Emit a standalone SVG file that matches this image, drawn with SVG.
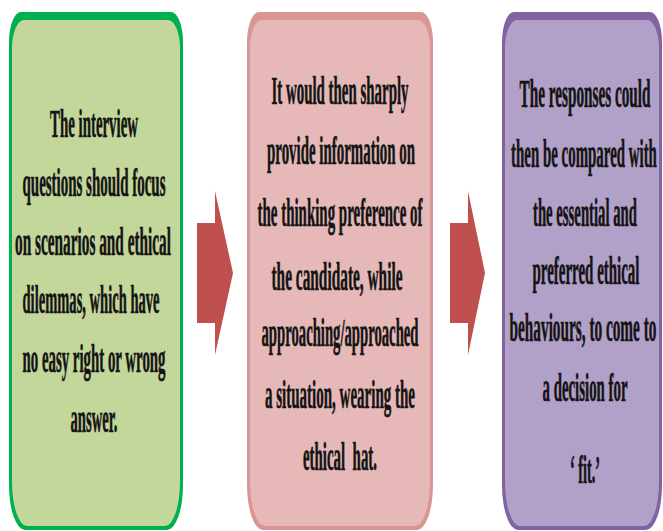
<svg xmlns="http://www.w3.org/2000/svg" width="663" height="531" viewBox="0 0 663 531">
<style>
.t{font-family:"Liberation Serif","Times New Roman",serif;font-weight:bold;font-size:41px;fill:#141414;stroke:#141414;stroke-width:0.7;text-anchor:middle}
</style>
<rect width="663" height="531" fill="#ffffff"/>
<g id="connectors">
<polygon points="197,223 215,223 215,191 233,273 215,355 215,323 197,323" fill="#c0504d"/>
<polygon points="450,223 468,223 468,191 485,273 468,355 468,323 450,323" fill="#c0504d"/>
</g>
<g id="box1">
<path d="M9,42 A12,30 0 0 1 21,12 H171 A12,30 0 0 1 183,42 V485 A16,45 0 0 1 167,530 H25 A16,45 0 0 1 9,485 Z" fill="#00b050"/>
<path d="M12,48 A12,28 0 0 1 24,20 H168 A12,28 0 0 1 180,48 V482 A15,44 0 0 1 165,526 H27 A15,44 0 0 1 12,482 Z" fill="#c4d79b"/>
<text class="t" transform="translate(94,137) scale(0.4,1)" textLength="220" lengthAdjust="spacingAndGlyphs">The interview</text>
<text class="t" transform="translate(94,196) scale(0.4,1)" textLength="357.5" lengthAdjust="spacingAndGlyphs">questions should focus</text>
<text class="t" transform="translate(93,255) scale(0.4,1)" textLength="390" lengthAdjust="spacingAndGlyphs">on scenarios and ethical</text>
<text class="t" transform="translate(91,313) scale(0.4,1)" textLength="342.5" lengthAdjust="spacingAndGlyphs">dilemmas, which have</text>
<text class="t" transform="translate(94,372) scale(0.4,1)" textLength="357.5" lengthAdjust="spacingAndGlyphs">no easy right or wrong</text>
<text class="t" transform="translate(94,432) scale(0.4,1)" textLength="117.5" lengthAdjust="spacingAndGlyphs">answer.</text>
</g>
<g id="box2">
<path d="M247,42 A12,30 0 0 1 259,12 H421 A12,30 0 0 1 433,42 V485 A16,45 0 0 1 417,530 H263 A16,45 0 0 1 247,485 Z" fill="#da9694"/>
<path d="M250,48 A12,28 0 0 1 262,20 H418 A12,28 0 0 1 430,48 V482 A15,44 0 0 1 415,526 H265 A15,44 0 0 1 250,482 Z" fill="#e6b8b7"/>
<text class="t" transform="translate(340,104) scale(0.4,1)" textLength="342.5" lengthAdjust="spacingAndGlyphs">It would then sharply</text>
<text class="t" transform="translate(341,164) scale(0.4,1)" textLength="370" lengthAdjust="spacingAndGlyphs">provide information on</text>
<text class="t" transform="translate(340,226) scale(0.4,1)" textLength="412.5" lengthAdjust="spacingAndGlyphs">the thinking preference of</text>
<text class="t" transform="translate(337,290) scale(0.4,1)" textLength="327.5" lengthAdjust="spacingAndGlyphs">the candidate, while</text>
<text class="t" transform="translate(340,346) scale(0.4,1)" textLength="392.5" lengthAdjust="spacingAndGlyphs">approaching/approached</text>
<text class="t" transform="translate(340,408) scale(0.4,1)" textLength="375" lengthAdjust="spacingAndGlyphs">a situation, wearing the</text>
<text class="t" transform="translate(340,470) scale(0.4,1)" textLength="185" lengthAdjust="spacingAndGlyphs" xml:space="preserve">ethical  hat.</text>
</g>
<g id="box3">
<path d="M502,42 A12,30 0 0 1 514,12 H650 A12,30 0 0 1 662,42 V485 A16,45 0 0 1 646,530 H518 A16,45 0 0 1 502,485 Z" fill="#8064a2"/>
<path d="M505,48 A12,28 0 0 1 517,20 H647 A12,28 0 0 1 659,48 V482 A15,44 0 0 1 644,526 H520 A15,44 0 0 1 505,482 Z" fill="#b1a0c7"/>
<text class="t" transform="translate(585,107) scale(0.4,1)" textLength="327.5" lengthAdjust="spacingAndGlyphs">The responses could</text>
<text class="t" transform="translate(584,167) scale(0.36,1)" textLength="405" lengthAdjust="spacingAndGlyphs">then be compared with</text>
<text class="t" transform="translate(585,226) scale(0.4,1)" textLength="260" lengthAdjust="spacingAndGlyphs">the essential and</text>
<text class="t" transform="translate(586,284) scale(0.4,1)" textLength="267.5" lengthAdjust="spacingAndGlyphs">preferred ethical</text>
<text class="t" transform="translate(583,341) scale(0.37,1)" textLength="397" lengthAdjust="spacingAndGlyphs">behaviours, to come to</text>
<text class="t" transform="translate(585,401) scale(0.4,1)" textLength="212.5" lengthAdjust="spacingAndGlyphs">a decision for</text>
<text class="t" transform="translate(585,483) scale(0.4,1)" textLength="75" lengthAdjust="spacingAndGlyphs">‘ fit.’</text>
</g>
</svg>
